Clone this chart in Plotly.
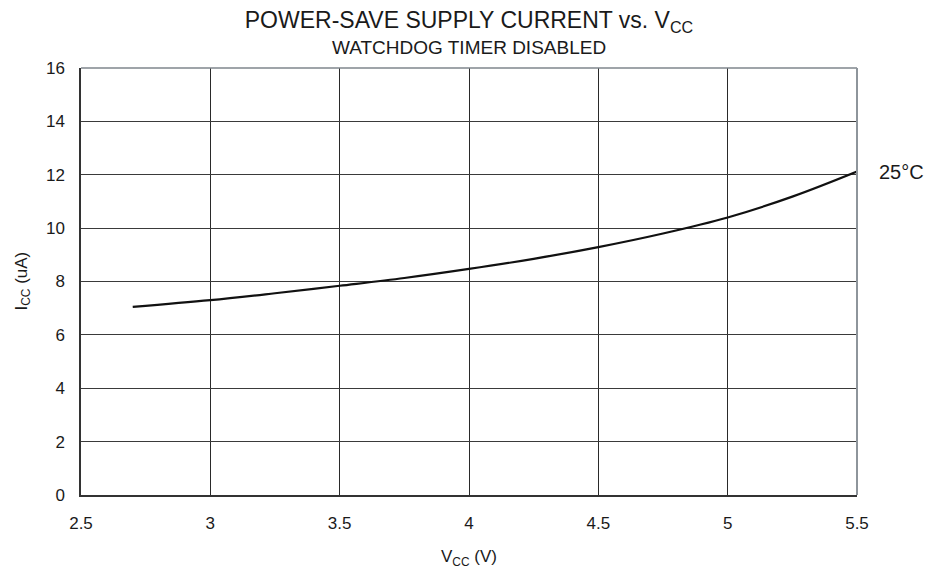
import plotly.graph_objects as go

vcc = [2.7, 3.0, 3.25, 3.5, 3.75, 4.0, 4.25, 4.5, 4.75, 5.0, 5.25, 5.5]
icc = [7.05, 7.30, 7.56, 7.84, 8.13, 8.47, 8.85, 9.29, 9.80, 10.40, 11.18, 12.12]
curve_label = "25°C"
x_ticks = [2.5, 3, 3.5, 4, 4.5, 5, 5.5]
y_ticks = [0, 2, 4, 6, 8, 10, 12, 14, 16]

FONT = "Liberation Sans, Arial, sans-serif"
INK = "#1a1a1a"

# page has an 8px body margin, so figure is 935x563 and offsets are compensated
W, H = 935, 563
L, R, T, B = 73, 86, 60, 76

fig = go.Figure()
fig.add_trace(go.Scatter(
    x=vcc, y=icc, mode="lines",
    line=dict(color="#111111", width=2.2, shape="spline", smoothing=1.0),
    showlegend=False, hoverinfo="skip",
))

fig.add_annotation(
    x=vcc[-1], y=icc[-1], xref="x", yref="y",
    text=curve_label, showarrow=False, xanchor="left", yanchor="middle",
    xshift=20, yshift=0, font=dict(family=FONT, size=20, color=INK),
)

fig.add_annotation(
    x=0.5, y=1, xref="x domain", yref="paper", yshift=21,
    text="WATCHDOG TIMER DISABLED", showarrow=False, xanchor="center", yanchor="middle",
    font=dict(family=FONT, size=19, color=INK),
)

fig.add_annotation(
    x=0.5, y=0, xref="x domain", yref="paper", yshift=-63,
    text="V<sub>CC</sub> (V)", showarrow=False, xanchor="center", yanchor="middle",
    font=dict(family=FONT, size=17, color=INK),
)

fig.add_annotation(
    x=0, y=0.5, xref="x domain", yref="y domain", xshift=-59,
    text="I<sub>CC</sub> (uA)", showarrow=False, xanchor="center", yanchor="middle",
    textangle=-90, font=dict(family=FONT, size=17, color=INK),
)

# top and right frame (lighter)
fig.add_shape(type="line", xref="x domain", yref="y domain", x0=0, x1=1, y0=1, y1=1,
              line=dict(color="#7f868c", width=1.5), layer="above")
fig.add_shape(type="line", xref="x domain", yref="y domain", x0=1, x1=1, y0=0, y1=1,
              line=dict(color="#8e959b", width=2), layer="above")

fig.update_layout(
    width=W, height=H,
    margin=dict(l=L, r=R, t=T, b=B),
    paper_bgcolor="white", plot_bgcolor="white",
    font=dict(family=FONT, size=17, color=INK),
    title=dict(
        text="POWER-SAVE SUPPLY CURRENT vs. V<sub>CC</sub>",
        x=(L + (W - L - R) / 2) / W, xanchor="center",
        y=(H - 12) / H, yanchor="middle",
        font=dict(family=FONT, size=23, color=INK),
    ),
    xaxis=dict(
        range=[2.5, 5.5], tickvals=x_ticks, ticktext=[str(v) for v in x_ticks],
        showgrid=True, gridcolor="#2a2a2a", gridwidth=1,
        showline=True, linecolor="#333333", linewidth=2,
        ticks="", ticklabelstandoff=12, zeroline=False,
        tickfont=dict(family=FONT, size=17, color=INK),
    ),
    yaxis=dict(
        range=[0, 16], tickvals=y_ticks,
        showgrid=True, gridcolor="#3a3a3a", gridwidth=1,
        showline=True, linecolor="#333333", linewidth=1.5,
        ticks="", ticklabelstandoff=11, zeroline=False,
        tickfont=dict(family=FONT, size=17, color=INK),
    ),
)

fig.write_html("out.html")
